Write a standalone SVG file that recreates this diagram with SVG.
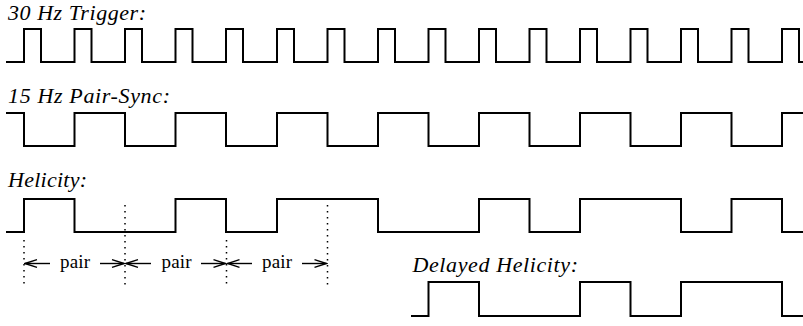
<svg xmlns="http://www.w3.org/2000/svg" width="803" height="326" viewBox="0 0 803 326">
  <style>
    .wave { fill: none; stroke: #000; stroke-width: 2; stroke-linejoin: miter; stroke-linecap: square; }
    .label { font-family: "Liberation Serif", "Times New Roman", serif; font-style: italic; font-size: 22px; fill: #000; }
    .pair { font-family: "Liberation Serif", "Times New Roman", serif; font-size: 19px; fill: #000; text-anchor: middle; }
    .marker-line { fill: none; stroke: #000; stroke-width: 1.5; stroke-dasharray: 1.5 4.5; }
    .span { fill: none; stroke: #000; stroke-width: 1.4; marker-end: url(#head); }
  </style>
  <defs>
    <marker id="head" viewBox="-13 -5 14 10" markerWidth="14" markerHeight="10" refX="0" refY="0" orient="auto" markerUnits="userSpaceOnUse">
      <path d="M-12,-3.8 L0,0 L-12,3.8" fill="none" stroke="#000" stroke-width="1.4"/>
    </marker>
  </defs>

  <!-- 30 Hz trigger: one 17px pulse every 50.55px -->
  <g id="trigger">
    <text class="label" x="8" y="20" textLength="138" lengthAdjust="spacing">30 Hz Trigger:</text>
    <path class="wave" d="M7,62 H24 V29 H41 V62 H74.5 V29 H91.5 V62 H125 V29 H142 V62 H175.5 V29 H192.5 V62 H226 V29 H243 V62 H277 V29 H294 V62 H327.5 V29 H344.5 V62 H378 V29 H395 V62 H428.5 V29 H445.5 V62 H479 V29 H496 V62 H529.5 V29 H546.5 V62 H580 V29 H597 V62 H630.5 V29 H647.5 V62 H681 V29 H698 V62 H731.5 V29 H748.5 V62 H782 V29 H799 V62 H804"/>
  </g>

  <!-- 15 Hz pair-sync: toggles on every trigger edge -->
  <g id="pair-sync">
    <text class="label" x="8" y="103" textLength="162" lengthAdjust="spacing">15 Hz Pair-Sync:</text>
    <path class="wave" d="M7,113 H24 V146 H74.5 V113 H125 V146 H175.5 V113 H226 V146 H277 V113 H327.5 V146 H378 V113 H428.5 V146 H479 V113 H529.5 V146 H580 V113 H630.5 V146 H681 V113 H731.5 V146 H782 V113 H804"/>
  </g>

  <!-- Helicity -->
  <g id="helicity">
    <text class="label" x="8" y="187" textLength="79" lengthAdjust="spacing">Helicity:</text>
    <path class="wave" d="M7,232 H24 V199 H74.5 V232 H175.5 V199 H226 V232 H277 V199 H378 V232 H479 V199 H529.5 V232 H580 V199 H681 V232 H731.5 V199 H782 V232 H804"/>
  </g>

  <!-- Delayed helicity -->
  <g id="delayed-helicity">
    <text class="label" x="412.5" y="272" textLength="165.5" lengthAdjust="spacing">Delayed Helicity:</text>
    <path class="wave" d="M412,316 H428.5 V282 H479 V316 H580 V282 H630.5 V316 H681 V282 H782 V316 H804"/>
  </g>

  <!-- Pair boundaries and pair spans -->
  <g id="connectors">
    <line class="marker-line" x1="24" y1="240" x2="24" y2="285"/>
    <line class="marker-line" x1="125" y1="205" x2="125" y2="285"/>
    <line class="marker-line" x1="226.5" y1="240" x2="226.5" y2="285"/>
    <line class="marker-line" x1="327.5" y1="205" x2="327.5" y2="285"/>

    <line class="span" x1="50" y1="263.5" x2="25" y2="263.5"/>
    <line class="span" x1="100" y1="263.5" x2="124" y2="263.5"/>
    <line class="span" x1="151" y1="263.5" x2="126" y2="263.5"/>
    <line class="span" x1="201" y1="263.5" x2="225.5" y2="263.5"/>
    <line class="span" x1="252" y1="263.5" x2="227.5" y2="263.5"/>
    <line class="span" x1="302" y1="263.5" x2="326.5" y2="263.5"/>

    <text class="pair" x="75" y="268" textLength="30" lengthAdjust="spacing">pair</text>
    <text class="pair" x="176.5" y="268" textLength="30" lengthAdjust="spacing">pair</text>
    <text class="pair" x="277" y="268" textLength="30" lengthAdjust="spacing">pair</text>
  </g>
</svg>
